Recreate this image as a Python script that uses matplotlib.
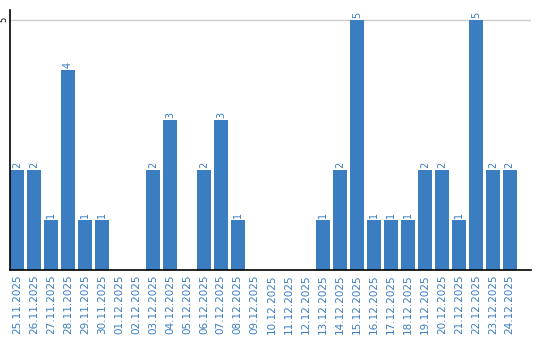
import matplotlib
matplotlib.use("Agg")
import matplotlib.pyplot as plt

dates = ["25.11.2025", "26.11.2025", "27.11.2025", "28.11.2025", "29.11.2025",
         "30.11.2025", "01.12.2025", "02.12.2025", "03.12.2025", "04.12.2025",
         "05.12.2025", "06.12.2025", "07.12.2025", "08.12.2025", "09.12.2025",
         "10.12.2025", "11.12.2025", "12.12.2025", "13.12.2025", "14.12.2025",
         "15.12.2025", "16.12.2025", "17.12.2025", "18.12.2025", "19.12.2025",
         "20.12.2025", "21.12.2025", "22.12.2025", "23.12.2025", "24.12.2025"]
counts = [2, 2, 1, 4, 1, 1, 0, 0, 2, 3,
          0, 2, 3, 1, 0, 0, 0, 0, 1, 2,
          5, 1, 1, 1, 2, 2, 1, 5, 2, 2]

blue = "#3a7dc0"

fig = plt.figure(figsize=(5.4, 3.4), dpi=100)
ax = fig.add_axes([0.0185, 0.206, 0.9645, 0.765])

x = list(range(len(dates)))
ax.bar(x, counts, width=0.82, color=blue, zorder=2)

# value labels above the bars
for xi, v in zip(x, counts):
    if v > 0:
        ax.text(xi, v + 0.04, str(v), rotation=90, ha="center", va="bottom",
                fontsize=7, color=blue)

ax.set_xlim(-0.41, 30.24)
ax.set_ylim(0, 5.2)
ax.set_xticks(x)
ax.set_xticklabels(dates, rotation=90, fontsize=7.5, color=blue)
ax.tick_params(axis="x", length=0, pad=3)
ax.set_yticks([5])
ax.set_yticklabels(["5"], rotation=90, fontsize=6, va="center")
ax.tick_params(axis="y", length=0, pad=1)
ax.yaxis.grid(True, color="#cccccc", linewidth=1, zorder=0)

for side in ["top", "right"]:
    ax.spines[side].set_visible(False)
ax.spines["left"].set_color("black")
ax.spines["bottom"].set_color("black")
ax.spines["left"].set_linewidth(1.2)
ax.spines["bottom"].set_linewidth(1.2)

fig.savefig("out.png", dpi=100)
